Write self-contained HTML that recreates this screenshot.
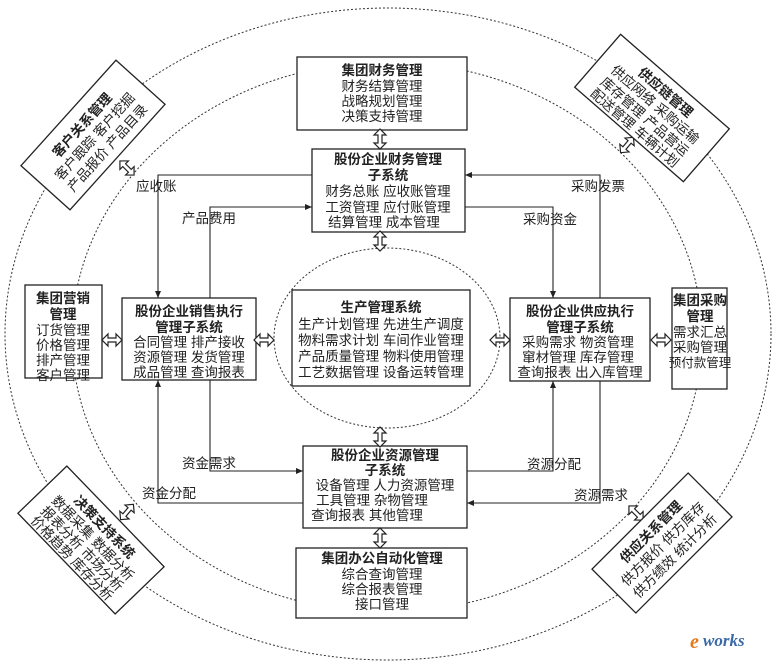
<!DOCTYPE html>
<html><head><meta charset="utf-8"><style>
html,body{margin:0;padding:0;background:#fff}
svg{display:block}
text{font-family:"Liberation Sans","Noto Sans CJK SC",sans-serif;font-size:13.5px;fill:#222}
.b{font-weight:bold}
</style></head><body>
<svg width="774" height="669" viewBox="0 0 774 669" xmlns="http://www.w3.org/2000/svg">
<defs>
<marker id="ar" markerWidth="8" markerHeight="8" refX="7" refY="4" orient="auto" markerUnits="userSpaceOnUse">
<path d="M0,1 L7,4 L0,7 z" fill="#222"/></marker>
<g id="da"><path d="M0,-10 L-6,-4 L-2,-4 L-2,4 L-6,4 L0,10 L6,4 L2,4 L2,-4 L6,-4 Z" fill="#fff" stroke="#222" stroke-width="1.2"/></g>
</defs>
<g fill="none" stroke="#333" stroke-width="1" stroke-dasharray="2,2">
<ellipse cx="388" cy="334" rx="383" ry="326"/>
<ellipse cx="387" cy="337" rx="315" ry="275"/>
<ellipse cx="387" cy="338" rx="113" ry="90"/>
</g>
<g fill="#fff" stroke="#222" stroke-width="1.3">
<rect x="297" y="57" width="170" height="73"/>
<rect x="312" y="149" width="153" height="83"/>
<rect x="292" y="290" width="178" height="96"/>
<rect x="122" y="298" width="134" height="82"/>
<rect x="510" y="298" width="140" height="83"/>
<rect x="25" y="285" width="77" height="93"/>
<rect x="672" y="288" width="55" height="101"/>
<rect x="303" y="446" width="164" height="82"/>
<rect x="296" y="548" width="171" height="70"/>
</g>
<g fill="none" stroke="#222" stroke-width="1.1">
<path d="M312,175 H158 V298" marker-end="url(#ar)"/>
<path d="M210,298 V207 H312" marker-end="url(#ar)"/>
<path d="M600,298 V175 H465" marker-end="url(#ar)"/>
<path d="M465,207 H553 V298" marker-end="url(#ar)"/>
<path d="M210,380 V471 H303" marker-end="url(#ar)"/>
<path d="M303,503 H158 V380" marker-end="url(#ar)"/>
<path d="M467,471 H553 V381" marker-end="url(#ar)"/>
<path d="M600,381 V503 H467" marker-end="url(#ar)"/>
</g>
<text x="136" y="191">应收账</text>
<text x="182" y="223">产品费用</text>
<text x="571" y="191">采购发票</text>
<text x="523" y="224">采购资金</text>
<text x="182" y="468">资金需求</text>
<text x="142" y="498">资金分配</text>
<text x="527" y="469">资源分配</text>
<text x="574" y="500">资源需求</text>
<use href="#da" transform="translate(380,139)"/>
<use href="#da" transform="translate(380,241)"/>
<use href="#da" transform="translate(380,437)"/>
<use href="#da" transform="translate(380,538)"/>
<use href="#da" transform="translate(112,340) rotate(90)"/>
<use href="#da" transform="translate(264,340) rotate(90)"/>
<use href="#da" transform="translate(500,340) rotate(90)"/>
<use href="#da" transform="translate(661,340) rotate(90)"/>
<use href="#da" transform="translate(127,168) rotate(-45)"/>
<use href="#da" transform="translate(627,145) rotate(40)"/>
<use href="#da" transform="translate(127,512) rotate(40)"/>
<use href="#da" transform="translate(636,513) rotate(-45)"/>
<g text-anchor="middle">
<text x="382" y="75" class="b">集团财务管理</text>
<text x="382" y="91">财务结算管理</text>
<text x="382" y="106">战略规划管理</text>
<text x="382" y="121">决策支持管理</text>
<text x="388" y="164" class="b">股份企业财务管理</text>
<text x="388" y="180" class="b">子系统</text>
<text x="388" y="196">财务总账 应收账管理</text>
<text x="388" y="212">工资管理 应付账管理</text>
<text x="384" y="227">结算管理 成本管理</text>
<text x="381" y="312" class="b">生产管理系统</text>
<text x="381" y="329">生产计划管理 先进生产调度</text>
<text x="381" y="345">物料需求计划 车间作业管理</text>
<text x="381" y="361">产品质量管理 物料使用管理</text>
<text x="381" y="377">工艺数据管理 设备运转管理</text>
<text x="189" y="316" class="b">股份企业销售执行</text>
<text x="189" y="332" class="b">管理子系统</text>
<text x="189" y="347">合同管理 排产接收</text>
<text x="189" y="362">资源管理 发货管理</text>
<text x="189" y="377">成品管理 查询报表</text>
<text x="580" y="316" class="b">股份企业供应执行</text>
<text x="580" y="332" class="b">管理子系统</text>
<text x="578" y="347">采购需求 物资管理</text>
<text x="578" y="362">窜材管理 库存管理</text>
<text x="580" y="377">查询报表 出入库管理</text>
<text x="63" y="303" class="b">集团营销</text>
<text x="63" y="319" class="b">管理</text>
<text x="63" y="335">订货管理</text>
<text x="63" y="350">价格管理</text>
<text x="63" y="365">排产管理</text>
<text x="63" y="380">客户管理</text>
<text x="700" y="305" class="b">集团采购</text>
<text x="700" y="321" class="b">管理</text>
<text x="700" y="337">需求汇总</text>
<text x="700" y="352">采购管理</text>
<text x="700" y="367" style="font-size:12.5px">预付款管理</text>
<text x="385" y="460" class="b">股份企业资源管理</text>
<text x="385" y="475" class="b">子系统</text>
<text x="385" y="490">设备管理 人力资源管理</text>
<text x="372" y="505">工具管理 杂物管理</text>
<text x="367" y="520">查询报表 其他管理</text>
<text x="382" y="563" class="b">集团办公自动化管理</text>
<text x="382" y="579">综合查询管理</text>
<text x="382" y="594">综合报表管理</text>
<text x="382" y="609">接口管理</text>
</g>
<g transform="translate(93,135) rotate(-48)">
<rect x="-71" y="-33" width="142" height="66" fill="#fff" stroke="#222" stroke-width="1.3"/>
<g text-anchor="middle"><text x="0" y="-10" class="b">客户关系管理</text>
<text x="0" y="7">客户跟踪 客户挖掘</text>
<text x="0" y="24">产品报价 产品目录</text></g>
</g>
<g transform="translate(652,108) rotate(41)">
<rect x="-72" y="-35" width="144" height="70" fill="#fff" stroke="#222" stroke-width="1.3"/>
<g text-anchor="middle"><text x="0" y="-16" class="b">供应链管理</text>
<text x="0" y="0">供应网络 采购运输</text>
<text x="0" y="16">库存管理 产品营运</text>
<text x="0" y="31">配送管理 车辆计划</text></g>
</g>
<g transform="translate(91,540) rotate(46)">
<rect x="-70" y="-34" width="140" height="68" fill="#fff" stroke="#222" stroke-width="1.3"/>
<g text-anchor="middle"><text x="0" y="-14" class="b">决策支持系统</text>
<text x="0" y="2">数据采集 数据分析</text>
<text x="0" y="17">报表分析 市场分析</text>
<text x="0" y="31">价格趋势 库存分析</text></g>
</g>
<g transform="translate(662,543) rotate(-45)">
<rect x="-68" y="-31" width="136" height="62" fill="#fff" stroke="#222" stroke-width="1.3"/>
<g text-anchor="middle"><text x="0" y="-11" class="b">供应关系管理</text>
<text x="0" y="6">供方报价 供方库存</text>
<text x="0" y="23">供方绩效 统计分析</text></g>
</g>
<text x="690" y="648" style="font-family:'Liberation Serif',serif;font-size:20px;font-style:italic;font-weight:bold;fill:#e07a1f">e</text>
<text x="703" y="646" style="font-family:'Liberation Serif',serif;font-size:17px;font-style:italic;font-weight:bold;fill:#3a6aa8">works</text>
</svg>
</body></html>
